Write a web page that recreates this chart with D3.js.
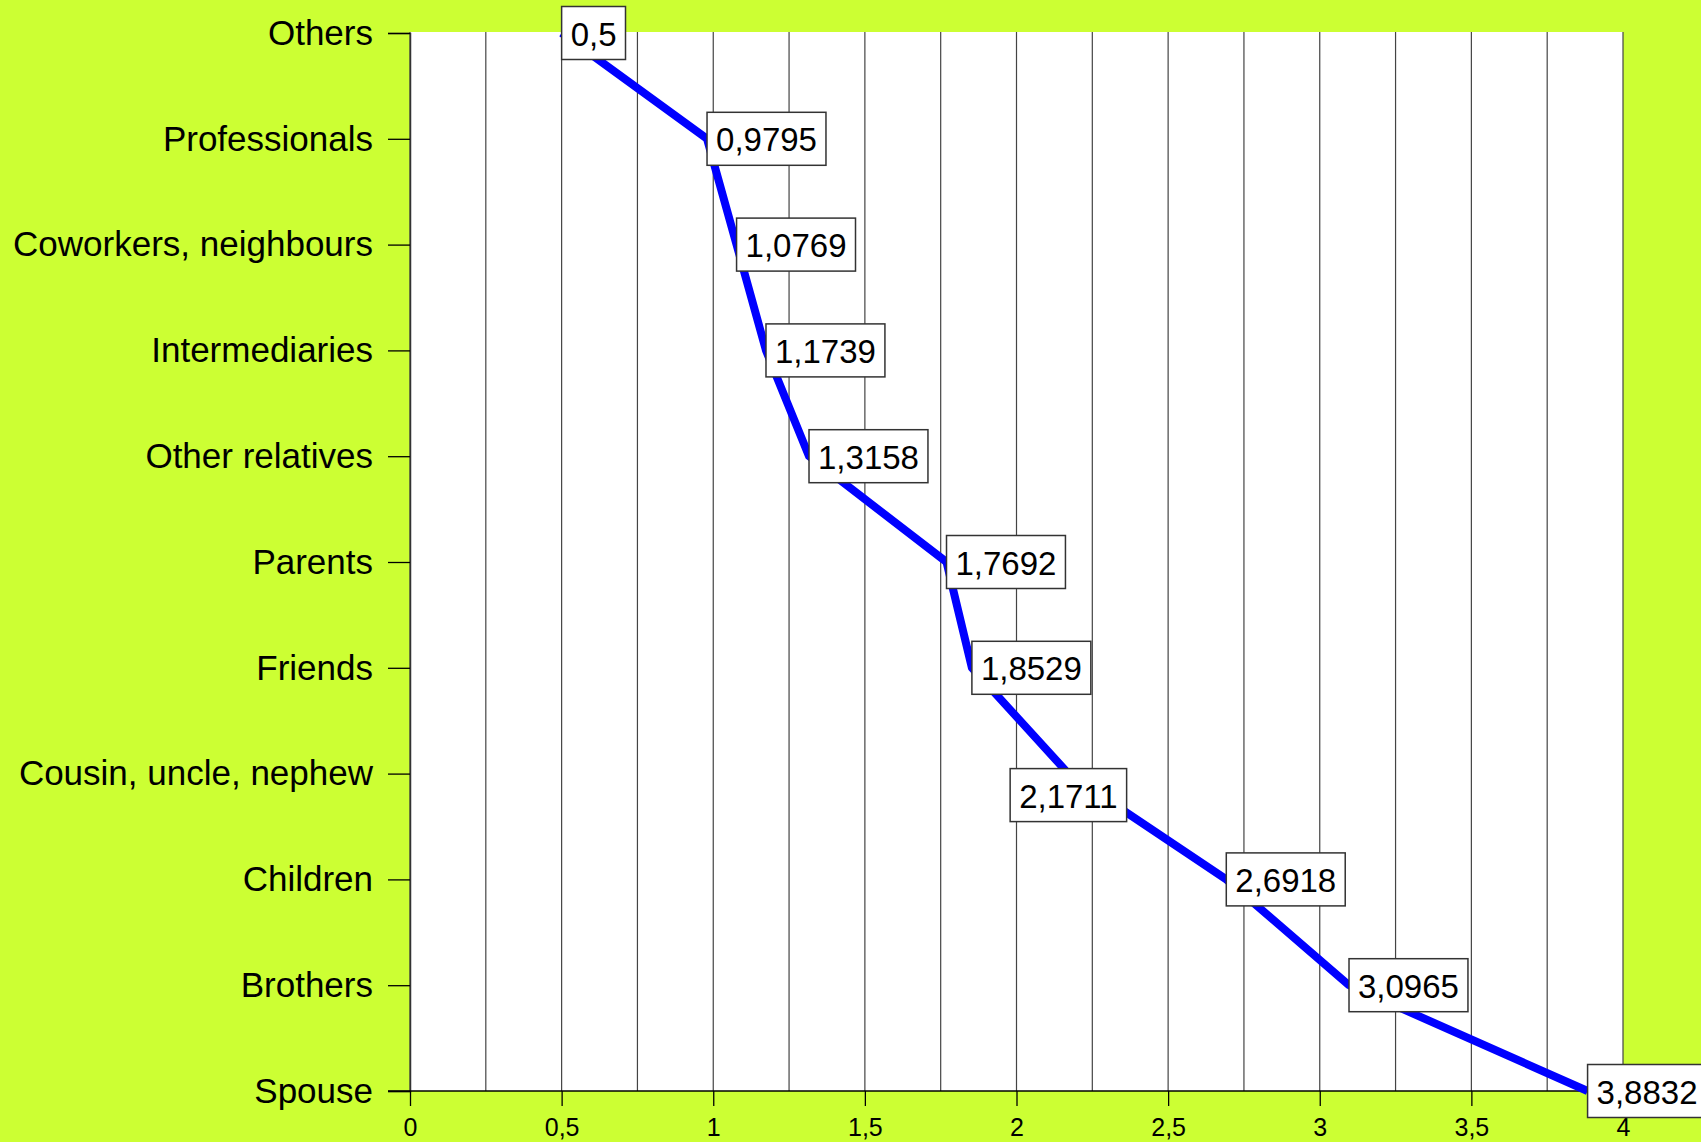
<!DOCTYPE html>
<html>
<head>
<meta charset="utf-8">
<script src="https://cdn.jsdelivr.net/npm/d3@7"></script>
<style>
  html, body { margin: 0; padding: 0; background: #ccff33; }
  svg { display: block; font-family: "Liberation Sans", Arial, sans-serif; }
</style>
</head>
<body>
<div id="chart"></div>
<script>
// categories top -> bottom
const categories = [
    'Others', 'Professionals', 'Coworkers, neighbours', 'Intermediaries',
    'Other relatives', 'Parents', 'Friends', 'Cousin, uncle, nephew',
    'Children', 'Brothers', 'Spouse'
];
const values = [0.5, 0.9795, 1.0769, 1.1739, 1.3158, 1.7692, 1.8529, 2.1711, 2.6918, 3.0965, 3.8832];
const xTicks = [0, 0.5, 1, 1.5, 2, 2.5, 3, 3.5, 4];
const gridTicks = [0, 0.25, 0.5, 0.75, 1, 1.25, 1.5, 1.75, 2, 2.25, 2.5, 2.75, 3, 3.25, 3.5, 3.75, 4];

const W = 1701, H = 1142;
const plot = {left: 410, right: 1623, top: 32, bottom: 1091};
const fmt = v => String(v).replace('.', ',');

const svg = d3.select('#chart').append('svg')
    .attr('width', W).attr('height', H);

svg.append('rect').attr('width', W).attr('height', H).attr('fill', '#ccff33');

const x = d3.scaleLinear().domain([0, 4]).range([plot.left, plot.right]);
const y = d3.scalePoint().domain(categories).range([plot.top + 1, plot.bottom]);

// plot area
svg.append('rect')
    .attr('x', plot.left).attr('y', plot.top)
    .attr('width', plot.right - plot.left).attr('height', plot.bottom - plot.top)
    .attr('fill', '#fff');

// vertical grid lines
svg.append('g')
    .selectAll('line')
    .data(gridTicks)
    .join('line')
    .attr('x1', d => x(d)).attr('x2', d => x(d))
    .attr('y1', plot.top).attr('y2', plot.bottom)
    .attr('stroke', '#444').attr('stroke-width', 1.2);

// y axis
const yAxis = svg.append('g')
    .attr('transform', `translate(${plot.left},0)`)
    .call(d3.axisLeft(y).tickSize(22).tickPadding(15));
yAxis.select('.domain').attr('stroke', '#333').attr('stroke-width', 1.5);
yAxis.selectAll('.tick line').attr('stroke', '#000').attr('stroke-width', 1.3);
yAxis.selectAll('.tick text')
    .attr('font-size', 35).attr('fill', '#000')
    .attr('font-family', '"Liberation Sans", Arial, sans-serif');

// x axis
const xAxis = svg.append('g')
    .attr('transform', `translate(0,${plot.bottom})`)
    .call(d3.axisBottom(x).tickValues(xTicks).tickSize(15).tickPadding(12).tickFormat(fmt));
xAxis.select('.domain').remove();
xAxis.selectAll('.tick line').attr('stroke', '#000').attr('stroke-width', 1.3);
xAxis.selectAll('.tick text')
    .attr('font-size', 25).attr('fill', '#000')
    .attr('font-family', '"Liberation Sans", Arial, sans-serif');

svg.append('line')
    .attr('x1', plot.left - 22).attr('x2', plot.right)
    .attr('y1', plot.bottom).attr('y2', plot.bottom)
    .attr('stroke', '#000').attr('stroke-width', 1.5);

// line
const pts = categories.map((c, i) => ({cat: c, value: values[i]}));
svg.append('path')
    .datum(pts)
    .attr('fill', 'none')
    .attr('stroke', '#0000ff')
    .attr('stroke-width', 8)
    .attr('stroke-linejoin', 'round')
    .attr('d', d3.line().x(d => x(d.value)).y(d => y(d.cat)));

// value labels (box left edge at point, vertically centred)
const boxH = 53, pad = 9;
const labels = svg.append('g').selectAll('g')
    .data(pts)
    .join('g');
labels.each(function(d) {
    const g = d3.select(this);
    const t = g.append('text')
        .attr('font-size', 33)
        .attr('fill', '#000')
        .attr('dominant-baseline', 'central')
        .text(fmt(d.value));
    const w = t.node().getComputedTextLength() + pad * 2;
    let bx = x(d.value), by = y(d.cat) - boxH / 2;
    // the crowded one gets pushed under its point
    if (d.cat === 'Cousin, uncle, nephew') { bx = x(d.value) - w / 2; by = y(d.cat) - 5; }
    g.insert('rect', 'text')
        .attr('x', bx).attr('y', by)
        .attr('width', w).attr('height', boxH)
        .attr('fill', '#fff').attr('stroke', '#333').attr('stroke-width', 1.5);
    t.attr('x', bx + pad).attr('y', by + boxH / 2 + 1);
});
</script>
</body>
</html>
